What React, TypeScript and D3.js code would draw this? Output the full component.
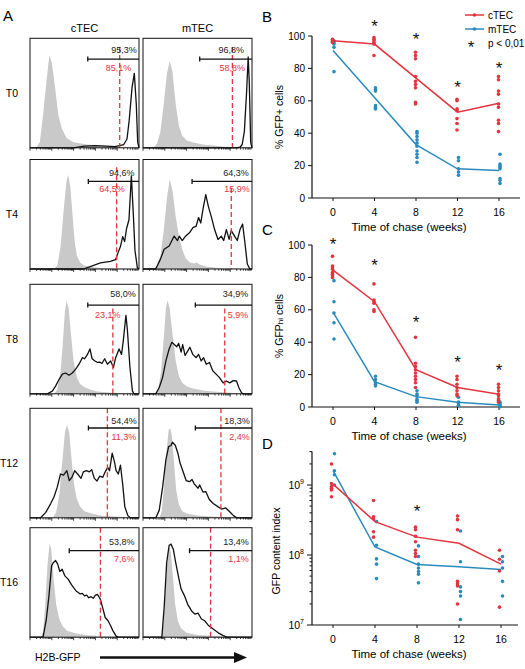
import React from "react";
import * as d3 from "d3";

const FONT = "'Liberation Sans', Arial, Helvetica, sans-serif";
const RED = "#e4343e";
const BLUE = "#2a8bbd";
const GREY = "#c9c9c9";

// ---------- A: H2B-GFP histograms (x: % of log axis, y: % of max) ----------
const rowNames = ["T0", "T4", "T8", "T12", "T16"];
const colNames = ["cTEC", "mTEC"];

const ctrlT0c = [[0,0],[6,0.5],[9,5],[12,30],[15,60],[17.7,84],[20,78],[23,55],[26,30],[29,18],[33.5,9],[40,5],[52,3],[64,2],[76,1],[88,0.5],[100,0]];
const gfpT0c = [[0,0],[40,0],[50,1.5],[60,2],[70,1.5],[78,1],[82,2],[86,3],[89,8],[91,25],[93.6,55],[95.7,68],[97.5,40],[98.8,5],[100,0]];
const ctrlT0m = [[0,0],[10,0.5],[13,4],[16,15],[19,40],[22,68],[24.5,79],[27,70],[30,40],[33,20],[36,11],[40,7],[45,5],[55,3],[65,2],[75,1],[85,0.5],[100,0]];
const gfpT0m = [[0,0],[85,0],[89,0.5],[91,3],[93,15],[95,50],[96.5,83],[97.5,60],[98.8,5],[100,0]];

const ctrlT4c = [[0,0],[22,0],[25,3],[28,20],[31,55],[33.5,80],[35,86],[37,75],[39,50],[41,25],[43,12],[46,6],[50,3],[55,2],[65,1],[80,0.5],[100,0]];
const gfpT4c = [[0,0],[49,0],[54,1.8],[64.6,5.5],[73.8,7],[78.5,8.5],[80.6,14.5],[83,20.5],[85,29.6],[86.8,25],[88.6,37],[90.8,45],[93,85],[94.8,50],[96.3,17],[98.5,1],[100,0]];
const ctrlT4m = [[0,0],[10,0],[13,3],[16,12],[19,35],[22,65],[24.5,82],[27,72],[30,48],[33,30],[36,18],[39,10],[43,6],[47,5],[49,6],[52,4],[58,2],[70,1],[85,0.5],[100,0]];
const gfpT4m = [[0,0],[11.7,0],[16,9],[19.4,18],[24,21],[27,27],[28.6,30],[31.6,26],[33.3,30],[36,26],[39,30],[42.6,33],[46,38],[48.7,39],[51,47],[53,42],[55,54.5],[57.6,68],[60,57],[62.6,48],[65.7,36],[68.8,27],[71.8,30],[74,26],[76.5,36],[79,27],[81,35],[84,30],[86.5,26],[89,36],[91.4,41],[93.5,24],[95.7,4.5],[98,0],[100,0]];

const ctrlT8c = [[0,0],[22,0],[25,4],[28,20],[30,45],[32,75],[33.5,85],[35.5,78],[37.5,55],[40,30],[43,15],[46,9],[50,6],[55,4],[62,2],[75,1],[90,0.5],[100,0]];
const gfpT8c = [[0,0],[15.9,0],[20.5,2.5],[23.5,7],[26.6,13],[29.7,18],[32.7,19],[35.8,17],[38.8,19],[41.9,22.5],[45,27],[48,33],[50,32],[52.6,35.7],[55,41],[57,32],[59.6,30],[62,28.6],[64,29],[66,27.7],[68.5,32],[71,27],[74,30],[76.5,24],[78.6,33],[81.7,41],[84,36],[85.6,48.6],[88,71.7],[89.3,59],[91.7,24],[94,2.5],[95.4,0],[100,0]];
const ctrlT8m = [[0,0],[11,0],[14,4],[16.5,20],[19,50],[21,78],[22.5,85.5],[24.5,78],[27,55],[30,30],[33,16],[36,10],[40,7],[45,5],[55,3],[65,2],[80,1],[100,0]];
const gfpT8m = [[0,0],[11.7,0],[14.8,5.5],[18,15],[21,30],[24,41],[26.5,47],[28.7,45],[31,43],[32.7,46],[35,38],[36.4,45],[38.6,35],[41,39],[43,42.5],[45.7,36],[48.8,33],[51,36],[53.4,30],[55.6,33],[58,27],[61,28.6],[64,21],[67,18],[70,15],[73.5,10],[76.5,11.7],[79.6,10],[82.7,12],[85.8,11.7],[88,5.5],[90.4,1],[92,0],[100,0]];

const ctrlT12c = [[0,0],[21,0],[24,5],[27,22],[29.5,50],[32,78],[34,85],[36,78],[38,55],[40.5,30],[43,17],[46,10],[50,6],[56,4],[65,2],[80,1],[100,0]];
const gfpT12c = [[0,0],[9.8,0],[14.5,5],[19,13],[22,19],[25,28],[28,40],[30.8,39],[33.8,43],[36,34],[38.5,37],[41,43],[43.7,40],[46.8,36],[49,42],[51.7,43],[54.5,42],[56.6,44],[59,36],[61.5,33.6],[64,38],[66.8,37],[69,42],[71.4,46],[73,43],[75.4,59],[77.5,51],[79,43],[81,40],[83,48],[85,31],[87,10],[89.8,2],[92,0],[100,0]];
const ctrlT12m = [[0,0],[15,0],[17,5],[19,25],[21.5,60],[23.5,80],[25,82],[26.5,75],[28.5,50],[30.5,25],[33,12],[36,6],[40,4],[50,2],[65,1],[80,0.5],[100,0]];
const gfpT12m = [[0,0],[11.8,0],[14.9,7],[18,28],[21,53],[23.5,65],[25.7,66],[27,69],[29.7,66],[32,59],[34,50],[36.5,43],[39.6,34],[42.7,33],[45,35],[47,31],[50.5,27],[52,30],[55,23.5],[57.6,24],[60.7,17],[64.4,13],[69,10],[72,8],[76,9],[80,5],[83,2],[86,0],[100,0]];

const ctrlT16c = [[0,0],[10,0],[12,5],[14,30],[16,65],[18,86],[19.5,80],[21.5,55],[24,30],[27,16],[30,10],[34,6],[40,4],[50,2],[65,1],[100,0]];
const gfpT16c = [[0,0],[12,0],[15,16.6],[17.4,37.7],[19.8,65],[21.3,68],[23.5,70],[25.3,67],[27.4,60],[29.5,62],[32,56],[35,53],[38,48],[41,44],[42.5,42],[44,41],[46,39.5],[48,40],[50,37.7],[52,38.5],[54,36],[56,37],[58,35.5],[60,38.5],[62,39],[64.6,34.6],[67,25.6],[69,18],[71.6,15],[74,10.5],[76,6],[79,1],[81,0],[100,0]];
const ctrlT16m = [[0,0],[16,0],[18,5],[20,30],[22,65],[24,83],[25.5,78],[27.5,55],[29.5,30],[32,15],[35,8],[40,4],[50,2],[65,1],[100,0]];
const gfpT16m = [[0,0],[17.3,0],[19.5,28.6],[21.7,68],[24,84],[25.7,85],[27.9,80],[30,68],[33,53],[35,44],[38,38],[41,30],[44.6,24],[47.7,21],[50.5,22],[53.6,16.6],[56.7,15],[59.8,11],[64.4,7.5],[69,4],[73.7,1.5],[77,0],[100,0]];

const ctrlCurves = [[ctrlT0c, ctrlT0m], [ctrlT4c, ctrlT4m], [ctrlT8c, ctrlT8m], [ctrlT12c, ctrlT12m], [ctrlT16c, ctrlT16m]];
const gfpCurves = [[gfpT0c, gfpT0m], [gfpT4c, gfpT4m], [gfpT8c, gfpT8m], [gfpT12c, gfpT12m], [gfpT16c, gfpT16m]];

const posLabels = [["95,3%", "96,8%"], ["94,6%", "64,3%"], ["58,0%", "34,9%"], ["54,4%", "18,3%"], ["53,8%", "13,4%"]];
const hiLabels = [["85,1%", "58,8%"], ["64,5%", "15,9%"], ["23,1%", "5,9%"], ["11,3%", "2,4%"], ["7,6%", "1,1%"]];
const posGate = [[53, 52], [53.5, 45], [53, 48], [53.6, 48], [36, 42.7]];
const hiGate = [[82.3, 82], [79.5, 81], [76, 75], [71, 71.5], [64.6, 62]];

// histogram layout
const boxX = [30, 143];
const boxW = 109;
const boxH = 109.5;
const boxTop = [38.3, 159.5, 284.3, 408.3, 527.7];
const hiLineTop = [[0.08, 0.08], [0.07, 0.26], [0.22, 0.22], [0, 0], [0, 0]];
const posTextRight = [[98, 92.6], [96, 97], [97, 96.6], [98, 98], [96, 97]];
const hiTextRight = [[93, 93.6], [87, 98], [83, 96.6], [97.5, 98], [96, 97]];
const posTextY = [0.13, 0.15, 0.12, 0.144, 0.157];
const gateBarY = [0.19, 0.2, 0.19, 0.18, 0.21];
const hiTextY = [0.295, 0.3, 0.305, 0.29, 0.316];

// ---------- B/C/D: chase time course ----------
const weeks = [0, 4, 8, 12, 16];

const gfpPosC = [[98, 97, 96.5, 96], [99, 98, 97, 96, 95, 88], [90, 88, 86, 75, 72, 70, 68, 59, 58], [61, 60, 55, 54, 49, 46, 42], [75, 73, 66, 64, 58, 56, 48, 46, 41]];
const gfpPosM = [[97, 96, 95, 93, 78], [68, 67, 66, 57, 56, 55], [41, 40, 38, 36, 34, 32, 29, 27, 25, 22], [25, 23, 18, 16, 14], [27, 21, 20, 19, 18, 12, 11, 9]];
const gfpPosMeanC = [97, 95, 74, 53, 58.5];
const gfpPosMeanM = [91, 62, 33, 18, 17];
const gfpPosStars = [[4, 108.6], [8, 100.6], [12, 71], [16, 82.7]];

const gfpHiC = [[93, 87, 86, 85, 83, 82, 81, 80], [76, 66, 65, 64, 60, 59], [43, 27, 25, 23, 21, 19, 17, 15, 12], [19, 17, 14, 12, 10, 8, 7], [14, 12, 10, 8, 7, 5, 4, 3]];
const gfpHiM = [[78, 65, 58, 52, 42], [19, 17, 15, 14, 13], [10, 8, 7, 5, 4, 3], [6, 3, 2, 1, 1], [3, 2, 1, 0.5, 0.2]];
const gfpHiMeanC = [84.5, 65, 23, 12, 7.8];
const gfpHiMeanM = [58.6, 15.6, 6.4, 2.9, 1.2];
const gfpHiStars = [[0, 103], [4, 90], [8, 55], [12, 30.4], [16, 25.5]];

const contentC = [[2.0e9, 1.05e9, 0.95e9, 0.9e9, 0.85e9, 0.68e9], [6e8, 3.5e8, 3.3e8, 2.15e8, 1.8e8], [2.5e8, 2.3e8, 1.85e8, 1.55e8, 1.17e8, 1.05e8, 9.5e7], [3.6e8, 3.2e8, 2.3e8, 4.2e7, 3.9e7, 3.6e7, 2.0e7], [1.17e8, 8.7e7, 5.9e7, 1.8e7]];
const contentM = [[2.8e9, 1.6e9, 1.4e9, 1.0e9], [3.0e8, 1.38e8, 8.8e7, 7.4e7, 4.6e7], [1.35e8, 9.5e7, 7.4e7, 6.5e7, 5.8e7, 5.3e7, 4.0e7], [2.2e8, 8e7, 3.5e7, 3.0e7, 2.6e7, 1.2e7], [9.5e7, 8e7, 6.5e7, 4.2e7, 2.6e7]];
const contentMeanC = [1.03e9, 3.0e8, 1.8e8, 1.47e8, 7.4e7];
const contentMeanM = [1.6e9, 1.3e8, 7.3e7, 6.8e7, 6.2e7];
const contentStars = [[8, 4.85e8]];

type Pt = number[];

function FlowHist({ r, c }: { r: number; c: number }) {
  const x0 = boxX[c];
  const top = boxTop[r];
  const x = d3.scaleLinear().domain([0, 100]).range([x0, x0 + boxW]);
  const y = d3.scaleLinear().domain([0, 100]).range([top + boxH, top]);
  const area = d3.area<Pt>().x((d) => x(d[0])).y0(y(0)).y1((d) => y(d[1]));
  const line = d3.line<Pt>().x((d) => x(d[0])).y((d) => y(d[1]));

  // log decade ticks along the bottom edge
  const ticks: { p: number; major: boolean }[] = [];
  for (let dec = 0; dec < 5; dec++)
    for (let k = 1; k <= 9; k++) ticks.push({ p: ((dec + Math.log10(k)) / 5) * 100, major: k === 1 });

  const barY = top + boxH * gateBarY[r];
  return (
    <g>
      <path d={area(ctrlCurves[r][c]) || ""} fill={GREY} />
      <path d={line(gfpCurves[r][c]) || ""} fill="none" stroke="#111" strokeWidth={1.3} strokeLinejoin="round" />
      <line x1={x(hiGate[r][c])} x2={x(hiGate[r][c])} y1={top + boxH * hiLineTop[r][c]} y2={top + boxH} stroke={RED} strokeWidth={1.3} strokeDasharray="5,3" />
      <line x1={x(posGate[r][c])} x2={x(100)} y1={barY} y2={barY} stroke="#111" strokeWidth={1.3} />
      <line x1={x(posGate[r][c])} x2={x(posGate[r][c])} y1={barY - 2.5} y2={barY + 2.5} stroke="#111" strokeWidth={1.3} />
      <text x={x(posTextRight[r][c])} y={top + boxH * posTextY[r]} textAnchor="end" fontSize={9} fill="#222">{posLabels[r][c]}</text>
      <text x={x(hiTextRight[r][c])} y={top + boxH * hiTextY[r]} textAnchor="end" fontSize={9} fill={RED}>{hiLabels[r][c]}</text>
      <rect x={x0} y={top} width={boxW} height={boxH} fill="none" stroke="#111" strokeWidth={1} />
      {ticks.map((t, i) => (
        <line key={i} x1={x(t.p)} x2={x(t.p)} y1={top + boxH} y2={top + boxH + (t.major ? 3 : 1.8)} stroke="#111" strokeWidth={0.8} />
      ))}
    </g>
  );
}

function Series({ x, y, pts, means, color, dx }: any) {
  const line = d3.line<number>().x((_, i) => x(weeks[i])).y((d) => y(d));
  return (
    <g>
      <path d={line(means) || ""} fill="none" stroke={color} strokeWidth={1.5} />
      {pts.map((col: number[], i: number) =>
        col.map((v, j) => <circle key={`${i}-${j}`} cx={x(weeks[i]) + dx} cy={y(v)} r={1.8} fill={color} />)
      )}
    </g>
  );
}

function Star({ cx, cy }: { cx: number; cy: number }) {
  return <text x={cx} y={cy + 9.9} textAnchor="middle" fontSize={17} fill="#111">*</text>;
}

function XAxis({ x, yPos, x1, x2 }: any) {
  return (
    <g>
      <line x1={x1} x2={x2} y1={yPos} y2={yPos} stroke="#111" strokeWidth={1.2} />
      {weeks.map((w) => (
        <g key={w}>
          <line x1={x(w)} x2={x(w)} y1={yPos} y2={yPos + 3} stroke="#111" strokeWidth={1} />
          <text x={x(w)} y={yPos + 18} textAnchor="middle" fontSize={10.5}>{w}</text>
        </g>
      ))}
      <text x={409} y={yPos + 33} textAnchor="middle" fontSize={11.5}>Time of chase (weeks)</text>
    </g>
  );
}

function LinearYAxis({ y, xPos }: any) {
  const [lo, hi] = y.range();
  return (
    <g>
      <line x1={xPos} x2={xPos} y1={lo} y2={hi} stroke="#111" strokeWidth={1.2} />
      {y.ticks(5).map((t: number) => (
        <g key={t}>
          <line x1={xPos - 4} x2={xPos} y1={y(t)} y2={y(t)} stroke="#111" strokeWidth={1} />
          <text x={xPos - 7} y={y(t) + 3.6} textAnchor="end" fontSize={10}>{t}</text>
        </g>
      ))}
    </g>
  );
}

export default function App() {
  const xB = d3.scaleLinear().domain([0, 16]).range([333, 499]);
  const yB = d3.scaleLinear().domain([0, 100]).range([198, 36]);
  const yC = d3.scaleLinear().domain([0, 100]).range([407, 245]);
  const xD = d3.scaleLinear().domain([0, 16]).range([333, 501]);
  const yD = d3.scaleLog().domain([1e7, 3e9]).range([625, 625 - 70 * Math.log10(300)]);

  const logTicks: { v: number; major: boolean }[] = [];
  for (let e = 7; e <= 9; e++)
    for (let k = 1; k <= 9; k++) {
      const v = k * Math.pow(10, e);
      if (v <= 3e9) logTicks.push({ v, major: k === 1 });
    }

  return (
    <div style={{ position: "absolute", left: 0, top: 0 }}>
      <svg width={525} height={669} style={{ display: "block", background: "#fff" }} fontFamily={FONT}>
        {/* A */}
        <text x={3} y={21} fontSize={15}>A</text>
        {colNames.map((n, c) => (
          <text key={n} x={boxX[c] + boxW / 2} y={31.5} textAnchor="middle" fontSize={11}>{n}</text>
        ))}
        {rowNames.map((n, r) => (
          <text key={n} x={18} y={boxTop[r] + boxH / 2 + 4} textAnchor="end" fontSize={10.5}>{n}</text>
        ))}
        {rowNames.map((_, r) => colNames.map((__, c) => <FlowHist key={`${r}-${c}`} r={r} c={c} />))}
        <text x={35} y={661} fontSize={10.5}>H2B-GFP</text>
        <line x1={100} x2={236} y1={657.5} y2={657.5} stroke="#111" strokeWidth={2.6} />
        <path d="M234,652 L247,657.5 L234,663 Z" fill="#111" />

        {/* B */}
        <text x={262} y={22} fontSize={15}>B</text>
        <LinearYAxis y={yB} xPos={312} />
        <XAxis x={xB} yPos={198} x1={312} x2={520} />
        <text transform={`translate(283,117) rotate(-90)`} textAnchor="middle" fontSize={10.5}>% GFP+ cells</text>
        <Series x={xB} y={yB} pts={gfpPosM} means={gfpPosMeanM} color={BLUE} dx={1} />
        <Series x={xB} y={yB} pts={gfpPosC} means={gfpPosMeanC} color={RED} dx={-0.5} />
        {gfpPosStars.map(([w, v]) => <Star key={w} cx={xB(w)} cy={yB(v)} />)}
        {/* legend */}
        <line x1={465} x2={484} y1={15} y2={15} stroke={RED} strokeWidth={1.5} />
        <circle cx={474.5} cy={15} r={1.8} fill={RED} />
        <text x={488} y={18.5} fontSize={10}>cTEC</text>
        <line x1={465} x2={484} y1={29} y2={29} stroke={BLUE} strokeWidth={1.5} />
        <circle cx={474.5} cy={29} r={1.8} fill={BLUE} />
        <text x={488} y={32.5} fontSize={10}>mTEC</text>
        <Star cx={471} cy={43} />
        <text x={488} y={46.5} fontSize={10}>p &lt; 0,01</text>

        {/* C */}
        <text x={262} y={235} fontSize={15}>C</text>
        <LinearYAxis y={yC} xPos={312} />
        <XAxis x={xB} yPos={407} x1={312} x2={520} />
        <text transform={`translate(283,326) rotate(-90)`} textAnchor="middle" fontSize={10.5}>
          % GFP<tspan fontSize={8}>hi</tspan> cells
        </text>
        <Series x={xB} y={yC} pts={gfpHiM} means={gfpHiMeanM} color={BLUE} dx={1} />
        <Series x={xB} y={yC} pts={gfpHiC} means={gfpHiMeanC} color={RED} dx={-0.5} />
        {gfpHiStars.map(([w, v]) => <Star key={w} cx={xB(w)} cy={yC(v)} />)}

        {/* D */}
        <text x={262} y={449} fontSize={15}>D</text>
        <line x1={312} x2={312} y1={yD(1e7)} y2={yD(3e9)} stroke="#111" strokeWidth={1.2} />
        {logTicks.map((t) => (
          <line key={t.v} x1={312 - (t.major ? 5 : 2.5)} x2={312} y1={yD(t.v)} y2={yD(t.v)} stroke="#111" strokeWidth={1} />
        ))}
        {[7, 8, 9].map((e) => (
          <text key={e} x={304} y={yD(Math.pow(10, e)) + 4} textAnchor="end" fontSize={10.5}>
            10<tspan dy={-5} fontSize={7}>{e}</tspan>
          </text>
        ))}
        <XAxis x={xD} yPos={625} x1={312} x2={518} />
        <text transform={`translate(280,551) rotate(-90)`} textAnchor="middle" fontSize={10.5}>GFP content index</text>
        <Series x={xD} y={yD} pts={contentM} means={contentMeanM} color={BLUE} dx={1.5} />
        <Series x={xD} y={yD} pts={contentC} means={contentMeanC} color={RED} dx={-1.5} />
        {contentStars.map(([w, v]) => <Star key={w} cx={xD(w)} cy={yD(v)} />)}
      </svg>
    </div>
  );
}
